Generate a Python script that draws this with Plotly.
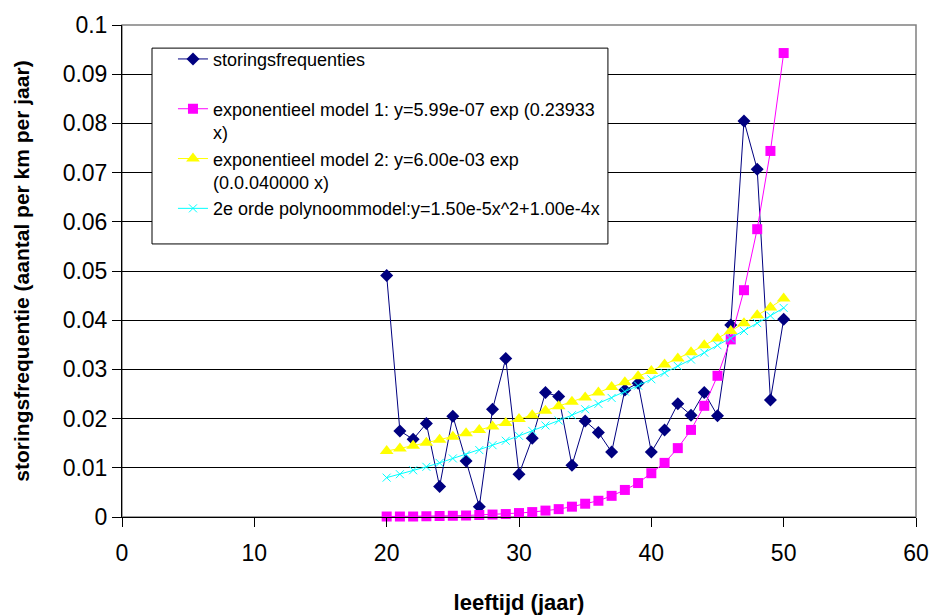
import plotly.graph_objects as go

# ---- data ----
leeftijd = list(range(20, 51))

storingsfrequenties = [
    0.0491, 0.0175, 0.0158, 0.0190, 0.0062, 0.0205, 0.0114, 0.0021, 0.0219, 0.0322,
    0.0087, 0.0160, 0.0253, 0.0245, 0.0105, 0.0195, 0.0172, 0.0132, 0.0258, 0.0272,
    0.0132, 0.0177, 0.0230, 0.0207, 0.0253, 0.0206, 0.0390, 0.0805, 0.0707, 0.0238,
    0.0402,
]

exp_model_1 = [
    0.0001, 0.0001, 0.0001, 0.00015, 0.0002, 0.00025, 0.0003, 0.0004, 0.0005, 0.0006,
    0.0008, 0.0010, 0.0013, 0.0016, 0.0021, 0.0027, 0.0033, 0.0043, 0.0055, 0.0069,
    0.0089, 0.0110, 0.0140, 0.0177, 0.0226, 0.0287, 0.0361, 0.0461, 0.0585, 0.0744,
    0.0943,
]

exp_model_2 = [
    0.0134, 0.0139, 0.0145, 0.0151, 0.0157, 0.0163, 0.0170, 0.0177, 0.0184, 0.0191,
    0.0199, 0.0207, 0.0216, 0.0225, 0.0234, 0.0243, 0.0253, 0.0264, 0.0274, 0.0286,
    0.0297, 0.0310, 0.0322, 0.0335, 0.0349, 0.0363, 0.0378, 0.0394, 0.0410, 0.0426,
    0.0444,
]

poly_model = [
    0.0080, 0.0087, 0.0095, 0.0102, 0.0110, 0.0119, 0.0127, 0.0136, 0.0146, 0.0155,
    0.0165, 0.0175, 0.0186, 0.0196, 0.0207, 0.0219, 0.0230, 0.0242, 0.0255, 0.0267,
    0.0280, 0.0293, 0.0307, 0.0320, 0.0334, 0.0349, 0.0363, 0.0378, 0.0394, 0.0409,
    0.0425,
]

series_names = [
    "storingsfrequenties<br> ",
    "exponentieel model 1: y=5.99e-07 exp (0.23933<br>x)",
    "exponentieel model 2: y=6.00e-03 exp<br>(0.0.040000 x)",
    "2e orde polynoommodel:y=1.50e-5x^2+1.00e-4x<br> ",
]

x_tick_vals = [0, 10, 20, 30, 40, 50, 60]
y_tick_vals = [0, 0.01, 0.02, 0.03, 0.04, 0.05, 0.06, 0.07, 0.08, 0.09, 0.1]
y_tick_labels = ["0", "0.01", "0.02", "0.03", "0.04", "0.05", "0.06", "0.07", "0.08", "0.09", "0.1"]

x_title = "leeftijd (jaar)"
y_title = "storingsfrequentie (aantal per km per jaar)"

# ---- figure ----
FONT = "Liberation Sans, Arial, sans-serif"

fig = go.Figure()
fig.add_trace(go.Scatter(
    x=leeftijd, y=storingsfrequenties, name=series_names[0], mode="lines+markers",
    line=dict(color="#000080", width=1),
    marker=dict(symbol="diamond", size=10, color="#000080"),
    cliponaxis=False,
))
fig.add_trace(go.Scatter(
    x=leeftijd, y=exp_model_1, name=series_names[1], mode="lines+markers",
    line=dict(color="#FF00FF", width=1),
    marker=dict(symbol="square", size=10, color="#FF00FF"),
    cliponaxis=False,
))
fig.add_trace(go.Scatter(
    x=leeftijd, y=exp_model_2, name=series_names[2], mode="lines+markers",
    line=dict(color="#FFFF00", width=1),
    marker=dict(symbol="triangle-up", size=12, color="#FFFF00"),
    cliponaxis=False,
))
fig.add_trace(go.Scatter(
    x=leeftijd, y=poly_model, name=series_names[3], mode="lines+markers",
    line=dict(color="#00FFFF", width=1),
    marker=dict(symbol="x-thin", size=8, line=dict(color="#00FFFF", width=1)),
    cliponaxis=False,
))

# legend frame (white box with black border)
lx0, lx1, ly0, ly1 = 0.0378, 0.612, 0.555, 0.953
fig.add_shape(type="rect", xref="paper", yref="paper", x0=lx0, x1=lx1, y0=ly0, y1=ly1,
              line=dict(color="black", width=1), fillcolor="white", layer="above")
# plot area border (grey)
fig.add_shape(type="rect", xref="paper", yref="paper", x0=0, x1=1, y0=0, y1=1,
              line=dict(color="#808080", width=1.5), layer="below")

fig.update_layout(
    width=931, height=615,
    margin=dict(l=122, r=15, t=25, b=98, autoexpand=False),
    paper_bgcolor="white", plot_bgcolor="white",
    font=dict(family=FONT, color="black"),
    showlegend=True,
    legend=dict(
        x=0.0642, y=0.968, xanchor="left", yanchor="top",
        bgcolor="rgba(0,0,0,0)", borderwidth=0,
        font=dict(family=FONT, size=18, color="black"),
        valign="top", tracegroupgap=0,
    ),
    xaxis=dict(
        range=[0, 60], tickvals=x_tick_vals, ticks="outside", ticklen=9,
        tickcolor="black", showline=True, linecolor="black", linewidth=1,
        showgrid=False, zeroline=False, automargin=False, ticklabelstandoff=6,
        tickfont=dict(family=FONT, size=23, color="black"),
        title=dict(text="<b>" + x_title + "</b>", font=dict(family=FONT, size=22, color="black"), standoff=31),
    ),
    yaxis=dict(
        range=[0, 0.1], tickvals=y_tick_vals, ticktext=y_tick_labels, ticks="outside", ticklen=9,
        tickcolor="black", showline=True, linecolor="black", linewidth=1,
        showgrid=True, gridcolor="black", gridwidth=1, zeroline=False, automargin=False,
        tickfont=dict(family=FONT, size=23, color="black"),
        title=dict(text="<b>" + y_title + "</b>", font=dict(family=FONT, size=21, color="black"), standoff=27),
    ),
)

fig.write_html("out.html")
